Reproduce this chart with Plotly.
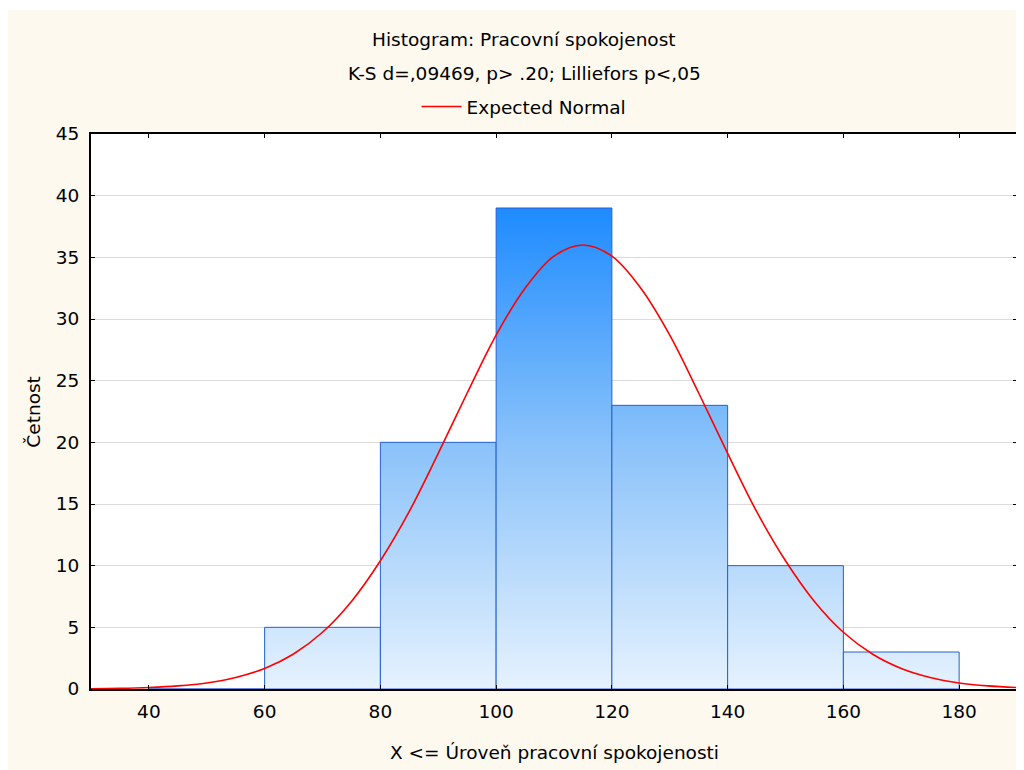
import plotly.graph_objects as go

# Histogram bins and counts
bin_left = [40, 60, 80, 100, 120, 140, 160]
bin_right = [60, 80, 100, 120, 140, 160, 180]
counts = [0, 5, 20, 39, 23, 10, 3]

# Expected normal curve
curve_x = [30, 35, 40, 45, 50, 55, 60, 65, 70, 75, 80, 85, 90, 95, 100, 105, 110,
           115, 120, 125, 130, 135, 140, 145, 150, 155, 160, 165, 170, 175, 180, 185, 190]
curve_y = [0.02, 0.05, 0.12, 0.25, 0.49, 0.94, 1.67, 2.84, 4.6, 7.1, 10.4, 14.4, 19.1, 24.0,
           28.7, 32.5, 35.1, 36.0, 35.1, 32.5, 28.7, 24.0, 19.1, 14.4, 10.4, 7.1, 4.6, 2.84,
           1.67, 0.94, 0.49, 0.25, 0.12]

x_ticks = [40, 60, 80, 100, 120, 140, 160, 180]
y_ticks = [0, 5, 10, 15, 20, 25, 30, 35, 40, 45]

FONT = "DejaVu Sans, Arial, sans-serif"
FS = 18.5
W, H = 1016, 762
ML, MR, MT, MB = 83, 5, 126, 81
PW = W - ML - MR
PH = H - MT - MB
OFF = 8  # page body margin

def px2paper_x(px):
    return (px - OFF - ML) / PW

def px2paper_y(py):
    return (H - MB - (py - OFF)) / PH

fig = go.Figure()

top = max(counts)
for l, r, c in zip(bin_left, bin_right, counts):
    fig.add_trace(go.Scatter(
        x=[l, l, r, r, l], y=[0, c, c, 0, 0],
        mode="lines", fill="toself",
        fillgradient=dict(type="vertical",
                          colorscale=[[0, "#E6F2FE"], [0.5, "#8CC3FA"], [1, "#1E8BFF"]],
                          start=0, stop=top),
        line=dict(color="#2460D0", width=1),
        showlegend=False, hoverinfo="skip",
    ))

fig.add_trace(go.Scatter(
    x=curve_x, y=curve_y, mode="lines", line=dict(color="#FF0000", width=1.6, shape="spline"),
    name="Expected Normal", showlegend=True,
))

axis_common = dict(
    showline=True, linecolor="black", linewidth=2, mirror="allticks",
    ticks="inside", ticklen=4, tickcolor="black", tickwidth=1,
    tickfont=dict(family=FONT, size=FS, color="black"),
    zeroline=False,
)

fig.update_xaxes(range=[30, 190], tickvals=x_ticks, showgrid=False, ticklabelstandoff=5,
                 **axis_common)
fig.update_yaxes(range=[0, 45], tickvals=y_ticks, showgrid=True, gridcolor="#DCDCDC", gridwidth=1,
                 ticklabelstandoff=6, **axis_common)

cx = px2paper_x(525)
fig.add_annotation(text="Histogram: Pracovní spokojenost", xref="paper", yref="paper",
                   x=cx, y=px2paper_y(40), showarrow=False, xanchor="center", yanchor="middle",
                   font=dict(family=FONT, size=FS, color="black"))
fig.add_annotation(text="K-S d=,09469, p> .20; Lilliefors p<,05", xref="paper", yref="paper",
                   x=cx, y=px2paper_y(73), showarrow=False, xanchor="center", yanchor="middle",
                   font=dict(family=FONT, size=FS, color="black"))
fig.add_annotation(text="X <= Úroveň pracovní spokojenosti", xref="paper", yref="paper",
                   x=0.5, y=px2paper_y(752), showarrow=False, xanchor="center", yanchor="middle",
                   font=dict(family=FONT, size=FS, color="black"))
fig.add_annotation(text="Četnost", xref="paper", yref="paper", textangle=-90,
                   x=px2paper_x(33), y=0.5, showarrow=False, xanchor="center", yanchor="middle",
                   font=dict(family=FONT, size=FS, color="black"))

# thin white strip at the very top of the panel
fig.add_shape(type="rect", xref="paper", yref="paper", layer="below",
              x0=-0.5, x1=1.5, y0=px2paper_y(10), y1=1.5, fillcolor="white", line_width=0)

fig.update_layout(
    width=W, height=H,
    margin=dict(l=ML, r=MR, t=MT, b=MB),
    paper_bgcolor="#FDF9EF", plot_bgcolor="white",
    font=dict(family=FONT, size=FS, color="black"),
    legend=dict(orientation="h", x=cx, xanchor="center", y=px2paper_y(107), yanchor="middle",
                bgcolor="rgba(0,0,0,0)", font=dict(family=FONT, size=FS, color="black"),
                itemwidth=40),
)

fig.write_html("out.html")
